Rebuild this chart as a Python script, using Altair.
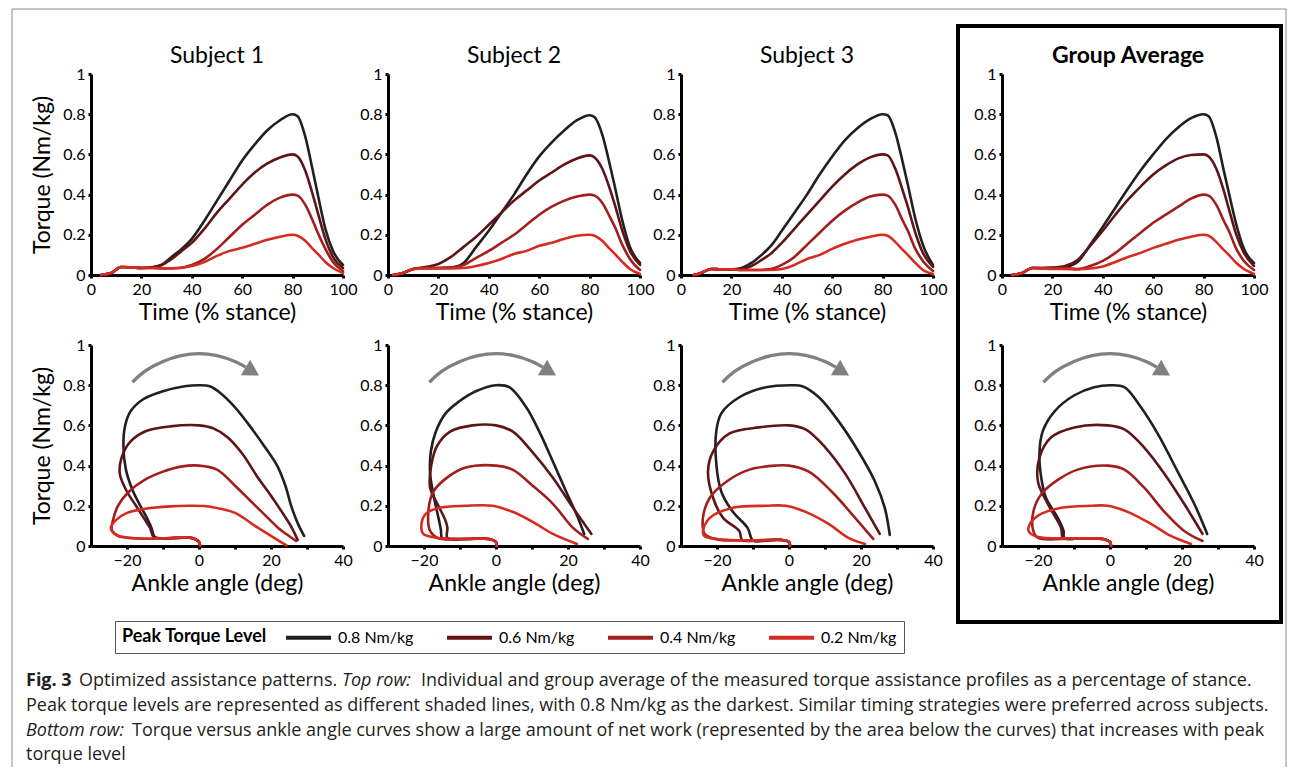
import altair as alt
import pandas as pd

LEVELS = ["0.8 Nm/kg", "0.6 Nm/kg", "0.4 Nm/kg", "0.2 Nm/kg"]
COLORS = ["#231f20", "#5f1515", "#a01f1e", "#d52b21"]
TITLES = ["Subject 1", "Subject 2", "Subject 3", "Group Average"]

TIME_TICKS = [0, 20, 40, 60, 80, 100]
ANGLE_TICKS = [-20, -10, 0, 10, 20, 30, 40]
TORQUE_TICKS = [0, 0.2, 0.4, 0.6, 0.8, 1]

# ---------------- top row: torque vs time (% stance) ----------------
S1_T08 = [4, 8, 12, 16, 20, 25, 28, 32, 36, 40, 45, 50, 55, 60, 65, 70, 75, 80, 82, 85, 88, 90, 93, 96, 100]
S1_Y08 = [0, 0.01, 0.04, 0.038, 0.035, 0.04, 0.05, 0.09, 0.13, 0.18, 0.27, 0.37, 0.47, 0.57, 0.65, 0.72, 0.77, 0.8, 0.79, 0.69, 0.52, 0.4, 0.23, 0.12, 0.05]
S1_T06 = [4, 8, 12, 16, 20, 25, 28, 32, 36, 40, 45, 50, 55, 60, 65, 70, 75, 80, 82, 85, 88, 90, 93, 96, 100]
S1_Y06 = [0, 0.01, 0.04, 0.038, 0.035, 0.04, 0.05, 0.08, 0.12, 0.16, 0.23, 0.31, 0.38, 0.45, 0.51, 0.555, 0.585, 0.6, 0.59, 0.52, 0.4, 0.31, 0.18, 0.09, 0.035]
S1_T04 = [4, 8, 12, 16, 20, 25, 30, 35, 40, 45, 50, 55, 60, 65, 70, 75, 80, 82, 85, 88, 90, 93, 96, 100]
S1_Y04 = [0, 0.01, 0.04, 0.038, 0.035, 0.035, 0.033, 0.035, 0.05, 0.08, 0.13, 0.19, 0.25, 0.3, 0.35, 0.385, 0.4, 0.395, 0.35, 0.27, 0.21, 0.13, 0.065, 0.02]
S1_T02 = [4, 8, 12, 16, 20, 25, 30, 35, 40, 45, 50, 55, 60, 65, 70, 75, 80, 82, 85, 88, 90, 93, 96, 100]
S1_Y02 = [0, 0.01, 0.04, 0.038, 0.035, 0.035, 0.033, 0.035, 0.045, 0.065, 0.095, 0.12, 0.135, 0.155, 0.175, 0.19, 0.2, 0.195, 0.17, 0.13, 0.105, 0.065, 0.035, 0.01]

S2_T08 = [2, 6, 10, 15, 20, 25, 28, 30, 35, 40, 45, 50, 55, 60, 65, 70, 75, 80, 82, 85, 88, 90, 93, 96, 100]
S2_Y08 = [0, 0.01, 0.03, 0.035, 0.035, 0.037, 0.045, 0.06, 0.14, 0.22, 0.31, 0.4, 0.5, 0.59, 0.66, 0.72, 0.77, 0.795, 0.785, 0.7, 0.55, 0.44, 0.27, 0.14, 0.06]
S2_T06 = [2, 6, 10, 15, 20, 25, 30, 35, 40, 45, 50, 55, 60, 65, 70, 75, 80, 82, 85, 88, 90, 93, 96, 100]
S2_Y06 = [0, 0.01, 0.03, 0.04, 0.055, 0.09, 0.14, 0.19, 0.25, 0.31, 0.37, 0.42, 0.47, 0.51, 0.55, 0.58, 0.595, 0.585, 0.53, 0.43, 0.35, 0.22, 0.12, 0.05]
S2_T04 = [2, 6, 10, 15, 20, 25, 30, 35, 40, 45, 50, 55, 60, 65, 70, 75, 80, 82, 85, 88, 90, 93, 96, 100]
S2_Y04 = [0, 0.01, 0.03, 0.035, 0.035, 0.038, 0.05, 0.085, 0.12, 0.16, 0.2, 0.25, 0.3, 0.34, 0.37, 0.39, 0.4, 0.395, 0.36, 0.29, 0.24, 0.15, 0.08, 0.025]
S2_T02 = [2, 6, 10, 15, 20, 25, 30, 35, 40, 45, 50, 55, 60, 65, 70, 75, 80, 82, 85, 88, 90, 93, 96, 100]
S2_Y02 = [0, 0.01, 0.03, 0.033, 0.033, 0.033, 0.035, 0.045, 0.06, 0.08, 0.105, 0.12, 0.145, 0.16, 0.18, 0.195, 0.2, 0.195, 0.17, 0.13, 0.105, 0.065, 0.03, 0.005]

S3_T08 = [5, 8, 12, 16, 20, 24, 28, 32, 36, 40, 45, 50, 55, 60, 65, 70, 75, 80, 82, 85, 88, 90, 93, 96, 100]
S3_Y08 = [0, 0.01, 0.03, 0.028, 0.028, 0.035, 0.06, 0.1, 0.15, 0.22, 0.31, 0.4, 0.5, 0.59, 0.67, 0.73, 0.775, 0.8, 0.795, 0.71, 0.56, 0.45, 0.28, 0.15, 0.05]
S3_T06 = [5, 8, 12, 16, 20, 24, 28, 32, 36, 40, 45, 50, 55, 60, 65, 70, 75, 80, 82, 85, 88, 90, 93, 96, 100]
S3_Y06 = [0, 0.01, 0.03, 0.028, 0.028, 0.03, 0.045, 0.075, 0.11, 0.16, 0.23, 0.3, 0.37, 0.44, 0.5, 0.55, 0.585, 0.6, 0.595, 0.53, 0.42, 0.34, 0.21, 0.11, 0.04]
S3_T04 = [5, 8, 12, 16, 20, 24, 30, 35, 40, 45, 50, 55, 60, 65, 70, 75, 80, 82, 85, 88, 90, 93, 96, 100]
S3_Y04 = [0, 0.01, 0.03, 0.028, 0.028, 0.025, 0.025, 0.028, 0.05, 0.09, 0.15, 0.21, 0.27, 0.32, 0.36, 0.39, 0.4, 0.395, 0.35, 0.27, 0.22, 0.13, 0.07, 0.02]
S3_T02 = [5, 8, 12, 16, 20, 24, 30, 35, 40, 45, 50, 55, 60, 65, 70, 75, 80, 82, 85, 88, 90, 93, 96, 100]
S3_Y02 = [0, 0.01, 0.03, 0.028, 0.028, 0.025, 0.025, 0.025, 0.03, 0.05, 0.08, 0.1, 0.13, 0.155, 0.175, 0.19, 0.2, 0.195, 0.165, 0.125, 0.1, 0.06, 0.025, 0.005]

G_T = [4, 8, 12, 16, 20, 25, 30, 35, 40, 45, 50, 55, 60, 65, 70, 75, 80, 82, 85, 88, 90, 93, 96, 100]
G_Y08 = [0, 0.01, 0.035, 0.035, 0.035, 0.04, 0.065, 0.15, 0.24, 0.335, 0.43, 0.52, 0.6, 0.675, 0.735, 0.78, 0.8, 0.79, 0.69, 0.52, 0.41, 0.25, 0.13, 0.06]
G_Y06 = [0, 0.01, 0.035, 0.035, 0.037, 0.045, 0.075, 0.145, 0.22, 0.3, 0.375, 0.44, 0.5, 0.545, 0.58, 0.597, 0.6, 0.59, 0.53, 0.42, 0.33, 0.2, 0.11, 0.045]
G_Y04 = [0, 0.01, 0.035, 0.033, 0.033, 0.035, 0.03, 0.045, 0.07, 0.11, 0.16, 0.21, 0.26, 0.3, 0.34, 0.38, 0.4, 0.395, 0.35, 0.27, 0.22, 0.13, 0.07, 0.025]
G_Y02 = [0, 0.01, 0.035, 0.033, 0.03, 0.03, 0.028, 0.032, 0.042, 0.065, 0.09, 0.11, 0.135, 0.155, 0.175, 0.19, 0.2, 0.195, 0.165, 0.125, 0.1, 0.06, 0.03, 0.005]

# ---------------- bottom row: torque vs ankle angle ----------------
S1_A08 = [0.3, 0, -2, -6, -10, -12.3, -13.2, -14.5, -16.3, -18.5, -20.3, -21, -20.5, -19, -15.5, -10, -4, 0, 3, 6, 10, 14, 18, 21.7, 24, 25.6, 27.5, 29.2]
S1_Q08 = [0, 0.02, 0.04, 0.04, 0.038, 0.045, 0.09, 0.14, 0.2, 0.28, 0.38, 0.5, 0.6, 0.67, 0.73, 0.77, 0.795, 0.8, 0.795, 0.76, 0.69, 0.6, 0.5, 0.4, 0.3, 0.2, 0.11, 0.05]
S1_A06 = [0.3, 0, -2, -6, -10, -12.6, -13.6, -15, -17.5, -20.3, -22, -21.5, -19, -15, -8, 0, 4, 8, 12, 16, 20, 23, 25.5, 27.4]
S1_Q06 = [0, 0.02, 0.04, 0.04, 0.038, 0.045, 0.09, 0.13, 0.2, 0.28, 0.36, 0.44, 0.52, 0.57, 0.595, 0.6, 0.585, 0.54, 0.46, 0.35, 0.25, 0.17, 0.1, 0.03]
S1_A04 = [0.3, 0, -2, -8, -14, -19, -22.5, -24.2, -24, -22.5, -19.5, -15, -10, -5, 0, 5, 10, 14, 18, 22, 25, 27]
S1_Q04 = [0, 0.02, 0.04, 0.04, 0.036, 0.04, 0.05, 0.08, 0.12, 0.2, 0.27, 0.33, 0.37, 0.395, 0.4, 0.38, 0.3, 0.23, 0.16, 0.09, 0.05, 0.025]
S1_A02 = [0.3, 0, -2, -8, -14, -19, -23, -24.5, -23, -20, -15, -8, -3, 2, 6, 10, 16, 20, 24.3]
S1_Q02 = [0, 0.02, 0.04, 0.04, 0.036, 0.04, 0.055, 0.09, 0.13, 0.165, 0.185, 0.197, 0.2, 0.198, 0.185, 0.165, 0.095, 0.05, 0.003]

S2_A08 = [0.2, 0, -2, -8, -13, -15, -15.3, -15.8, -17.2, -18.3, -18.1, -16.7, -14, -10.2, -5.6, 0, 3.7, 8.4, 12, 15.8, 19.5, 22.3, 24.5]
S2_Q08 = [0, 0.02, 0.035, 0.035, 0.035, 0.04, 0.08, 0.125, 0.24, 0.36, 0.47, 0.57, 0.66, 0.72, 0.77, 0.8, 0.79, 0.69, 0.57, 0.42, 0.27, 0.16, 0.06]
S2_A06 = [0.2, 0, -2, -8, -13.5, -13.5, -14, -16, -18.3, -18, -16.3, -12.6, -6.5, 0, 4.6, 10, 15.8, 21.4, 26.5]
S2_Q06 = [0, 0.02, 0.035, 0.035, 0.04, 0.09, 0.125, 0.2, 0.29, 0.4, 0.5, 0.57, 0.6, 0.6, 0.57, 0.47, 0.34, 0.19, 0.06]
S2_A04 = [0.2, 0, -2, -10, -16, -18.3, -18.8, -17.4, -13.6, -8.4, 0, 4.6, 10.2, 15.8, 21.4, 25.5]
S2_Q04 = [0, 0.02, 0.035, 0.035, 0.038, 0.075, 0.17, 0.27, 0.34, 0.39, 0.4, 0.38, 0.3, 0.21, 0.09, 0.035]
S2_A02 = [0.2, 0, -2, -10, -16, -20.2, -20.7, -19.5, -15.8, -8.4, -1, 4.6, 10.2, 15.8, 22.5]
S2_Q02 = [0, 0.02, 0.035, 0.035, 0.04, 0.06, 0.11, 0.16, 0.19, 0.2, 0.2, 0.17, 0.12, 0.06, 0.01]

S3_A08 = [0.3, 0, -2, -6, -10, -11.5, -15.6, -18.8, -20.2, -20.2, -18.8, -13.8, -6.4, 1, 3.7, 8.3, 13.8, 19.3, 23.9, 26.6, 28]
S3_Q08 = [0, 0.02, 0.03, 0.028, 0.027, 0.09, 0.17, 0.27, 0.41, 0.57, 0.66, 0.74, 0.79, 0.8, 0.795, 0.74, 0.62, 0.47, 0.32, 0.19, 0.055]
S3_A06 = [0.3, 0, -2, -8, -13, -13.8, -18.3, -21.1, -22.5, -21.1, -16.5, -8.3, 0, 4.6, 10.1, 15.6, 21.1, 25.2]
S3_Q06 = [0, 0.02, 0.03, 0.028, 0.03, 0.075, 0.14, 0.24, 0.37, 0.47, 0.56, 0.59, 0.6, 0.58, 0.49, 0.36, 0.19, 0.06]
S3_A04 = [0.3, 0, -2, -10, -20, -23.4, -23.9, -22, -17.4, -11, -3.7, 0, 5.5, 11.9, 17.4, 23.4]
S3_Q04 = [0, 0.02, 0.03, 0.028, 0.033, 0.06, 0.14, 0.24, 0.32, 0.38, 0.4, 0.4, 0.37, 0.27, 0.16, 0.035]
S3_A02 = [0.3, 0, -2, -10, -20, -23.5, -23.9, -22, -15.6, -6.4, -0.9, 4.6, 11, 16.5, 21.1]
S3_Q02 = [0, 0.02, 0.03, 0.028, 0.035, 0.05, 0.075, 0.14, 0.19, 0.2, 0.2, 0.17, 0.11, 0.04, 0.01]

G_A08 = [0.3, 0, -2, -8, -12.7, -12.9, -14.5, -17.8, -19.1, -19.6, -18.7, -15.4, -9.9, -4.4, 0.3, 4, 8.6, 13.2, 18.8, 23.4, 27]
G_Q08 = [0, 0.02, 0.035, 0.038, 0.04, 0.075, 0.14, 0.24, 0.34, 0.46, 0.57, 0.67, 0.75, 0.79, 0.8, 0.79, 0.69, 0.56, 0.37, 0.21, 0.06]
G_A06 = [0.3, 0, -2, -8, -13, -13.6, -17.3, -20, -19.6, -16.4, -9.9, -0.6, 4, 9.5, 15.1, 20.6, 25.7]
G_Q06 = [0, 0.02, 0.035, 0.038, 0.04, 0.09, 0.21, 0.32, 0.44, 0.54, 0.59, 0.6, 0.58, 0.49, 0.36, 0.21, 0.06]
G_A04 = [0.3, 0, -2, -10, -20, -21.3, -21.3, -19, -14.4, -9, -0.6, 4, 9.5, 15.1, 20.6, 25.7]
G_Q04 = [0, 0.02, 0.035, 0.038, 0.04, 0.075, 0.17, 0.26, 0.33, 0.38, 0.4, 0.38, 0.29, 0.17, 0.075, 0.025]
G_A02 = [0.3, 0, -2, -10, -20, -22.5, -22.5, -20.1, -13.6, -5.3, -0.6, 4.9, 11.4, 16.9, 22.5]
G_Q02 = [0, 0.02, 0.035, 0.038, 0.045, 0.07, 0.1, 0.15, 0.19, 0.2, 0.2, 0.17, 0.11, 0.05, 0.01]

# grey direction arrow (same in every bottom panel)
ARC_A = [-18.5, -15, -10, -5, 0, 5, 10, 13]
ARC_Q = [0.815, 0.87, 0.918, 0.947, 0.957, 0.947, 0.918, 0.89]
HEAD_A = [14.8]
HEAD_Q = [0.868]

CAPTION_FIG = "Fig. 3"
CAPTION_1A = "Optimized assistance patterns."
CAPTION_1B = "Top row:"
CAPTION_1C = "Individual and group average of the measured torque assistance profiles as a percentage of stance."
CAPTION_2 = "Peak torque levels are represented as different shaded lines, with 0.8 Nm/kg as the darkest. Similar timing strategies were preferred across subjects."
CAPTION_3A = "Bottom row:"
CAPTION_3B = "Torque versus ankle angle curves show a large amount of net work (represented by the area below the curves) that increases with peak"
CAPTION_4 = "torque level"

AX_FONT = "Lato"
CAP_FONT = "Open Sans"
LEG_FONT = "Liberation Sans Narrow, Lato"
INK = "#231f20"


def frame(xs_list, ys_list):
    rows = []
    for lvl, xs, ys in zip(LEVELS, xs_list, ys_list):
        for i, (x, y) in enumerate(zip(xs, ys)):
            rows.append({"level": lvl, "x": x, "y": y, "i": i})
    return pd.DataFrame(rows)


ONE = pd.DataFrame({"k": [0]})

LEGEND = alt.Legend(
    title="Peak Torque Level", orient="none", legendX=24, legendY=547,
    direction="horizontal", titleOrient="left", titleAnchor="middle", titleBaseline="middle",
    symbolType="M-3,0H3", symbolStrokeWidth=4, symbolSize=225,
    labelFont=LEG_FONT, labelFontSize=16,
    titleFont=LEG_FONT, titleFontSize=18, titleFontWeight="bold",
    titleColor="black", labelColor="black", strokeColor="#555555",
    padding=7, columnPadding=25, labelOffset=20, titlePadding=32, fillColor="white",
)
COLOR = alt.Color("level:N", scale=alt.Scale(domain=LEVELS, range=COLORS), legend=LEGEND)


def y_enc(first):
    return alt.Y(
        "y:Q", scale=alt.Scale(domain=[0, 1], nice=False),
        axis=alt.Axis(values=TORQUE_TICKS, format=".1~f",
                      title="Torque (Nm/kg)" if first else None, titlePadding=8),
    )


def title_of(name, bold):
    return alt.Title(name, fontSize=23, font=AX_FONT, fontWeight="bold" if bold else "normal",
                     frame="group", offset=-2, color="black")


def top_panel(idx, xs_list, ys_list):
    x = alt.X("x:Q", scale=alt.Scale(domain=[0, 100], nice=False),
              axis=alt.Axis(values=TIME_TICKS, title="Time (% stance)"))
    lines = alt.Chart(frame(xs_list, ys_list)).mark_line(
        strokeWidth=2.6, interpolate="monotone", strokeCap="round", strokeJoin="round"
    ).encode(x=x, y=y_enc(idx == 0), color=COLOR, order="i:Q")
    return lines.properties(width=252, height=201, title=title_of(TITLES[idx], idx == 3))


def bottom_panel(idx, xs_list, ys_list, extras=()):
    x = alt.X("x:Q", scale=alt.Scale(domain=[-30, 40], nice=False),
              axis=alt.Axis(values=ANGLE_TICKS, title="Ankle angle (deg)",
                            labelExpr="datum.value % 20 === 0 ? datum.label : ''"))
    y = y_enc(idx == 0)
    lines = alt.Chart(frame(xs_list, ys_list)).mark_line(
        strokeWidth=2.6, interpolate="catmull-rom", strokeCap="round", strokeJoin="round"
    ).encode(x=x, y=y, color=COLOR, order="i:Q")
    arc = alt.Chart(pd.DataFrame({"x": ARC_A, "y": ARC_Q, "i": range(len(ARC_A))})).mark_line(
        color="#808080", strokeWidth=3.4, interpolate="catmull-rom"
    ).encode(x=x, y=y, order="i:Q")
    head = alt.Chart(pd.DataFrame({"x": HEAD_A, "y": HEAD_Q})).mark_point(
        shape="triangle-right", filled=True, size=330, angle=31, color="#808080", opacity=1
    ).encode(x=x, y=y)
    return alt.layer(lines, arc, head, *extras).properties(width=252, height=201)


def spacer(w):
    return alt.Chart(ONE).mark_point(opacity=0).encode(
        x=alt.value(0), y=alt.value(0)).properties(width=w, height=201)


def deco_rule(x, y, x2=None, y2=None):
    enc = {"x": alt.value(x), "y": alt.value(y)}
    if x2 is not None:
        enc["x2"] = alt.value(x2)
    if y2 is not None:
        enc["y2"] = alt.value(y2)
    return alt.Chart(ONE).mark_rule(color="#8c8c8c", strokeWidth=1).encode(**enc)


def cap_text(text, x, y, weight="normal", style="normal"):
    return alt.Chart(ONE).mark_text(
        align="left", baseline="alphabetic", font=CAP_FONT, fontSize=18,
        fontWeight=weight, fontStyle=style, color=INK
    ).encode(x=alt.value(x), y=alt.value(y), text=alt.value(text))


# decorations drawn from the Subject 1 bottom panel (origin at its plot corner)
frame_and_caption = [
    deco_rule(-79, -336, y2=422),
    deco_rule(-79, -336, x2=1195),
    deco_rule(1195, -336, y2=422),
    cap_text(CAPTION_FIG, -65, 341, weight="bold"),
    cap_text(CAPTION_1A, -12, 341),
    cap_text(CAPTION_1B, 251, 341, style="italic"),
    cap_text(CAPTION_1C, 330, 341),
    cap_text(CAPTION_2, -65, 366),
    cap_text(CAPTION_3A, -65, 391, style="italic"),
    cap_text(CAPTION_3B, 41, 391),
    cap_text(CAPTION_4, -65, 415),
]

# thick box around the group-average column, drawn from its bottom panel
group_box = [
    alt.Chart(ONE).mark_rect(fillOpacity=0, stroke="black", strokeWidth=4).encode(
        x=alt.value(-44), x2=alt.value(279), y=alt.value(-319), y2=alt.value(277))
]

s1t = top_panel(0, [S1_T08, S1_T06, S1_T04, S1_T02], [S1_Y08, S1_Y06, S1_Y04, S1_Y02])
s2t = top_panel(1, [S2_T08, S2_T06, S2_T04, S2_T02], [S2_Y08, S2_Y06, S2_Y04, S2_Y02])
s3t = top_panel(2, [S3_T08, S3_T06, S3_T04, S3_T02], [S3_Y08, S3_Y06, S3_Y04, S3_Y02])
gt = top_panel(3, [G_T, G_T, G_T, G_T], [G_Y08, G_Y06, G_Y04, G_Y02])

s1b = bottom_panel(0, [S1_A08, S1_A06, S1_A04, S1_A02], [S1_Q08, S1_Q06, S1_Q04, S1_Q02], frame_and_caption)
s2b = bottom_panel(1, [S2_A08, S2_A06, S2_A04, S2_A02], [S2_Q08, S2_Q06, S2_Q04, S2_Q02])
s3b = bottom_panel(2, [S3_A08, S3_A06, S3_A04, S3_A02], [S3_Q08, S3_Q06, S3_Q04, S3_Q02])
gb = bottom_panel(3, [G_A08, G_A06, G_A04, G_A02], [G_Q08, G_Q06, G_Q04, G_Q02], group_box)

chart = alt.concat(
    s1t, spacer(45), s2t, spacer(41), s3t, spacer(69), gt,
    s1b, spacer(45), s2b, spacer(41), s3b, spacer(69), gb,
    columns=7, spacing=alt.RowColnumber(row=70, column=0), bounds="flush", align="each",
).properties(
    padding={"left": 3, "top": 0, "right": 0, "bottom": 0}, background="white"
).configure_view(stroke=None).configure_axis(
    grid=False, domainColor="black", domainWidth=3, tickColor="black", tickWidth=3,
    tickSize=3, labelFont=AX_FONT, labelFontSize=16, labelColor="black",
    titleFont=AX_FONT, titleFontSize=23, titleFontWeight="normal", titleColor="black",
    labelFlush=False, labelPadding=3, titlePadding=4, labelOverlap=False,
)

chart.save("out.html", embed_options={"renderer": "svg", "actions": False})
